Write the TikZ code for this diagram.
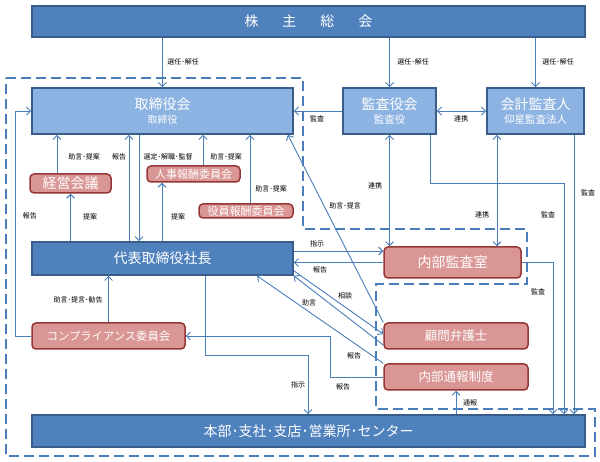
\documentclass[tikz,border=0pt]{standalone}
\usepackage{fontspec}
\setmainfont{Noto Sans CJK JP}
\usetikzlibrary{arrows.meta}
\definecolor{dblue}{HTML}{4F81BD}
\definecolor{lblue}{HTML}{8DB3E2}
\definecolor{navy}{HTML}{385D8A}
\definecolor{rfill}{HTML}{D99694}
\definecolor{rline}{HTML}{953735}
\definecolor{lnc}{HTML}{4A7EBB}
\tikzset{
  bluebox/.style={draw=navy, line width=1.6pt, fill=dblue, text=white, inner sep=0pt},
  lightbox/.style={draw=navy, line width=1.8pt, fill=lblue, text=white, inner sep=0pt, align=center},
  redbox/.style={draw=rline, line width=1.5pt, fill=rfill, text=white, rounded corners=4pt, inner sep=0pt},
  conn/.style={draw=lnc, line width=0.9pt},
  arr/.style={conn, -{Straight Barb[length=4pt,width=8pt]}},
  darr/.style={conn, {Straight Barb[length=4pt,width=8pt]}-{Straight Barb[length=4pt,width=8pt]}},
  lab/.style={font=\fontsize{7}{8}\selectfont, text=black, inner sep=0pt},
  dashbox/.style={draw=lnc, line width=1.5pt, dash pattern=on 10pt off 5pt}
}
\begin{document}
\begin{tikzpicture}[x=1pt,y=-1pt]
\fill[white] (0,0) rectangle (600,462);
\useasboundingbox (0,0) rectangle (600,462);

% dashed region
\draw[dashbox] (6,78) -- (303,78) -- (303,229) -- (527,229) -- (527,284) -- (376,284) -- (376,409) -- (595,409) -- (595,456) -- (6,456) -- cycle;

% nodes
\node[bluebox, minimum width=553pt, minimum height=31pt, font=\fontsize{14}{16}\selectfont] (kabu) at (308.5,21.5) {株\hspace{24pt}主\hspace{24pt}総\hspace{24pt}会};
\node[lightbox, minimum width=261pt, minimum height=46pt] (tori) at (162.5,111) {{\fontsize{14}{15}\selectfont 取締役会}\\[1.5pt]{\fontsize{10}{11}\selectfont\color{white!95!lblue} 取締役}};
\node[lightbox, minimum width=93pt, minimum height=46pt] (kansa) at (389.5,111) {{\fontsize{14}{15}\selectfont 監査役会}\\[1.5pt]{\fontsize{10.5}{11}\selectfont 監査役}};
\node[lightbox, minimum width=97pt, minimum height=46pt] (kaikei) at (535.5,111) {{\fontsize{14}{15}\selectfont 会計監査人}\\[1.5pt]{\fontsize{10.5}{11}\selectfont 仰星監査法人}};
\node[redbox, minimum width=81pt, minimum height=19pt, font=\fontsize{14}{15}\selectfont] (keiei) at (70.5,183.5) {経営会議};
\node[redbox, minimum width=93pt, minimum height=16pt, font=\fontsize{11}{12}\selectfont] (jinji) at (193.5,174) {人事報酬委員会};
\node[redbox, minimum width=94pt, minimum height=14pt, font=\fontsize{11}{12}\selectfont] (yakuin) at (246,211) {役員報酬委員会};
\node[bluebox, minimum width=261pt, minimum height=33pt, font=\fontsize{14}{16}\selectfont] (daihyo) at (162.5,258.5) {代表取締役社長};
\node[redbox, minimum width=137pt, minimum height=31pt, font=\fontsize{14}{15}\selectfont] (naibu) at (452.5,262.5) {内部監査室};
\node[redbox, minimum width=153pt, minimum height=26pt, font=\fontsize{11.3}{12}\selectfont] (comp) at (108.5,336) {コンプライアンス委員会};
\node[redbox, minimum width=144pt, minimum height=26pt, font=\fontsize{12.5}{13}\selectfont] (komon) at (456,336) {顧問弁護士};
\node[redbox, minimum width=144pt, minimum height=26pt, font=\fontsize{12.5}{13}\selectfont] (tsuho) at (456,377) {内部通報制度};
\node[bluebox, minimum width=553pt, minimum height=32pt, font=\fontsize{14}{16}\selectfont] (honbu) at (308.5,431) {本部･支社･支店･営業所･センター};

% connectors
\draw[arr] (kabu.south -| tori.north) -- (tori.north);
\draw[arr] (kabu.south -| kansa.north) -- (kansa.north);
\draw[arr] (kabu.south -| kaikei.north) -- (kaikei.north);
\draw[arr] (kansa.west) -- (tori.east);
\draw[darr] (kansa.east) -- (kaikei.west);
\draw[arr] (keiei.north -| 57,0) -- (tori.south -| 57,0);
\draw[arr] (daihyo.north -| keiei.south) -- (keiei.south);
\draw[arr] (daihyo.north -| 129,0) -- (tori.south -| 129,0);
\draw[arr] (tori.south -| 139,0) -- (daihyo.north -| 139,0);
\draw[arr] (jinji.north -| 203,0) -- (tori.south -| 203,0);
\draw[arr] (daihyo.north -| 162,0) -- (jinji.south -| 162,0);
\draw[arr] (yakuin.north -| 250,0) -- (tori.south -| 250,0);
\draw[arr] (comp.west) -- ++(-16,0) |- (tori.west);
\draw[arr] (comp.north) -- (daihyo.south -| comp.north);
\draw[arr] (daihyo.east |- 0,251) -- (naibu.west |- 0,251);
\draw[arr] (naibu.west) -- (daihyo.east |- naibu.west);
\draw[darr] (kansa.south) -- (naibu.north -| kansa.south);
\draw[darr] (kaikei.south -| 497,0) -- (naibu.north -| 497,0);
\draw[arr] (kansa.south -| 430,0) -- (430,183) -- (564,183) -- (honbu.north -| 564,0);
\draw[arr] (kaikei.south -| 574,0) -- (honbu.north -| 574,0);
\draw[arr] (naibu.east) -- (553,262.5) -- (honbu.north -| 553,0);
\draw[arr] (komon.north west) -- ([xshift=-6pt]tori.south east);
\draw[arr] ([yshift=5pt]daihyo.south east) -- ([yshift=2pt]komon.west);
\draw[arr] ([yshift=-9pt]komon.west) -- (daihyo.south east);
\draw[arr] (tsuho.north west) -- (daihyo.south -| 257,0);
\draw[arr] (tsuho.west) -- (tsuho.west -| 330,0) |- (comp.east);
\draw[arr] (daihyo.south -| 205,0) -- (205,355) -- (308,355) -- (honbu.north -| 308,0);
\draw[arr] (honbu.north -| tsuho.south) -- (tsuho.south);

% labels
\node[lab] (l1) at (183,62) {選任･解任};
\node[lab] (l2) at (413,62) {選任･解任};
\node[lab] (l3) at (558,62) {選任･解任};
\node[lab] (l4) at (317,119) {監査};
\node[lab] (l5) at (461,119) {連携};
\node[lab] (l6) at (84,157) {助言･提案};
\node[lab] (l7) at (119,157) {報告};
\node[lab] (l8) at (168,157) {選定･解職･監督};
\node[lab] (l9) at (226,157) {助言･提案};
\node[lab] (l10) at (271,189) {助言･提案};
\node[lab] (l11) at (90,217) {提案};
\node[lab] (l12) at (178,217) {提案};
\node[lab] (l13) at (30,216) {報告};
\node[lab] (l14) at (78,300) {助言･提言･勧告};
\node[lab] (l15) at (345,206) {助言･提言};
\node[lab] (l16) at (375,186) {連携};
\node[lab] (l17) at (482,215) {連携};
\node[lab] (l18) at (548,215) {監査};
\node[lab] (l19) at (588,193) {監査};
\node[lab] (l20) at (538,292) {監査};
\node[lab] (l21) at (317,244) {指示};
\node[lab] (l22) at (320,270) {報告};
\node[lab] (l23) at (345,296) {相談};
\node[lab] (l24) at (309,303) {助言};
\node[lab] (l25) at (354,356) {報告};
\node[lab] (l26) at (343,387) {報告};
\node[lab] (l27) at (298,385) {指示};
\node[lab] (l28) at (470,403) {通報};
\end{tikzpicture}
\end{document}
